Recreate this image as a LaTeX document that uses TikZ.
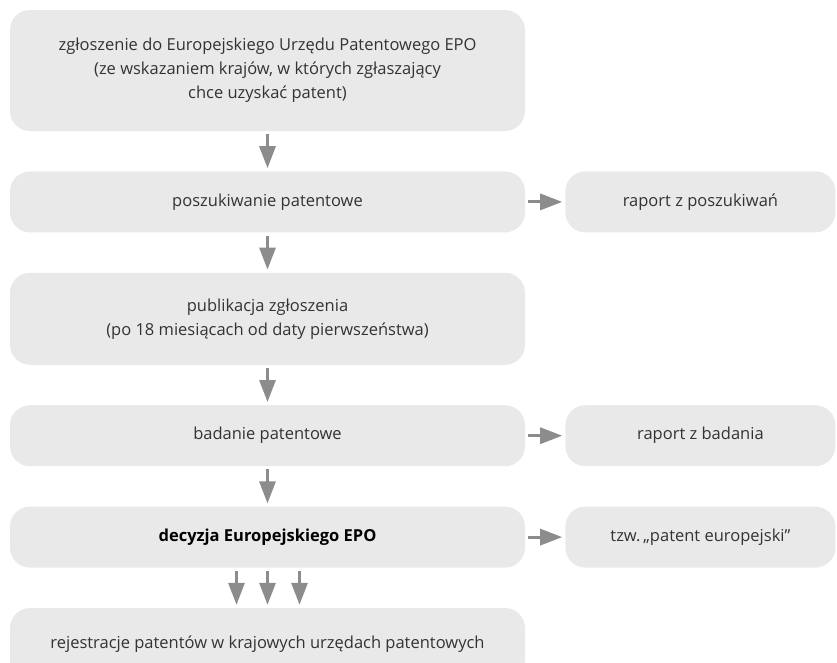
\documentclass[tikz,border=0pt]{standalone}
\usepackage{fontspec}
\setmainfont{Open Sans}
\usetikzlibrary{arrows.meta,positioning}
\definecolor{boxgray}{HTML}{E9E9E9}
\definecolor{argray}{HTML}{8C8C8C}
\definecolor{txtgray}{HTML}{333333}
\tikzset{
  blk/.style={fill=boxgray, rounded corners=20pt, align=center, inner sep=4pt, text=txtgray, font=\fontsize{16.5}{24}\selectfont},
  blkl/.style={blk, minimum width=515pt, minimum height=61pt},
  blkr/.style={blk, minimum width=270pt, minimum height=61pt},
  ar/.style={-{Triangle[length=22pt,width=16pt]}, line width=3pt, draw=argray, shorten <=3pt, shorten >=3pt},
}
\begin{document}
\begin{tikzpicture}[x=1pt, y=-1pt, node distance=40pt]
    \useasboundingbox (0,0) rectangle (837,662);
    \node[blkl, minimum height=121pt] (zg) at (267.5,70.5) {zgłoszenie do Europejskiego Urzędu Patentowego EPO\\(ze wskazaniem krajów, w których zgłaszający\\chce uzyskać patent)};
    \node[blkl, below=of zg] (po) {poszukiwanie patentowe};
    \node[blkl, below=of po, minimum height=92pt] (pu) {publikacja zgłoszenia\\(po 18 miesiącach od daty pierwszeństwa)};
    \node[blkl, below=of pu] (ba) {badanie patentowe};
    \node[blkl, below=of ba, text=black] (de) {\textbf{decyzja Europejskiego EPO}};
    \node[blkl, below=of de, minimum height=72pt] (re) {rejestracje patentów w krajowych urzędach patentowych};
    \node[blkr, right=of po] (rp) {raport z poszukiwań};
    \node[blkr, right=of ba] (rb) {raport z badania};
    \node[blkr, right=of de] (pe) {tzw.\,„patent europejski''};
    \draw[ar] (zg)--(po); \draw[ar] (po)--(pu); \draw[ar] (pu)--(ba); \draw[ar] (ba)--(de);
    \draw[ar] (po)--(rp); \draw[ar] (ba)--(rb); \draw[ar] (de)--(pe);
    \draw[ar] ([xshift=-31pt]de.south)--([xshift=-31pt]re.north);
    \draw[ar] (de)--(re);
    \draw[ar] ([xshift=32pt]de.south)--([xshift=32pt]re.north);
  \end{tikzpicture}
\end{document}
